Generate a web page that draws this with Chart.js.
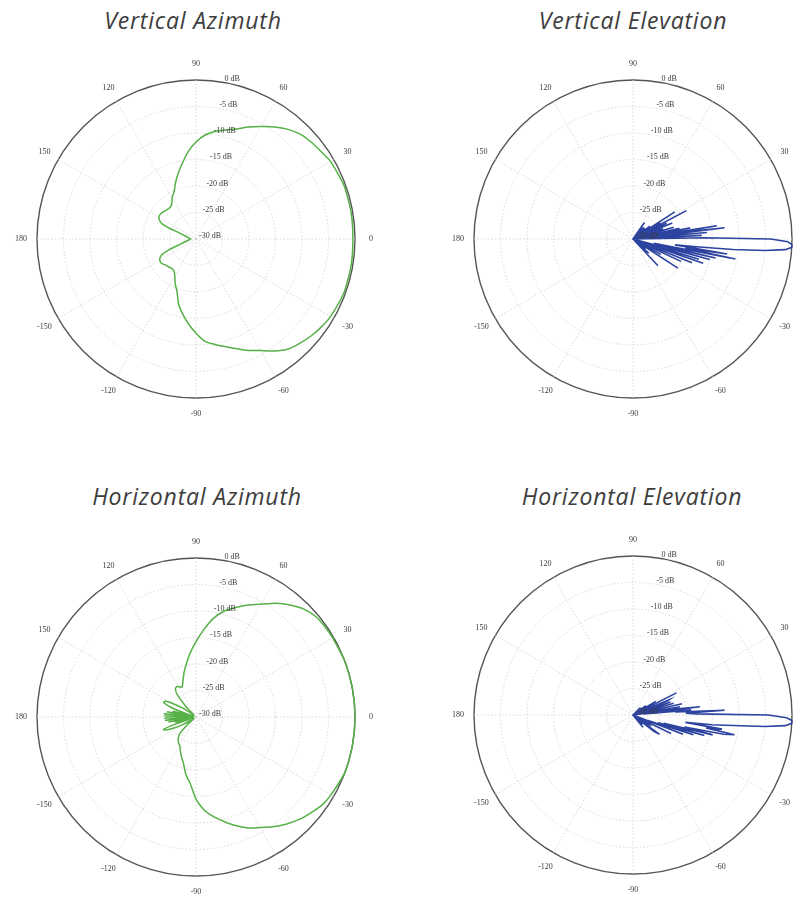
<!DOCTYPE html>
<html>
<head>
<meta charset="utf-8">
<script src="https://cdn.jsdelivr.net/npm/chart.js@4.4.0/dist/chart.umd.min.js"></script>
<style>
  html, body { margin:0; padding:0; background:#fff; overflow:hidden; width:801px; height:899px; }
  .plot { position:absolute; }
  .title { position:absolute; width:400px; text-align:center; font-family:"Open Sans", sans-serif; font-style:italic; font-size:23px; letter-spacing:0.8px; color:#3d3d3d; }
</style>
</head>
<body>
<canvas class="plot" id="canvas1" width="390" height="390" style="left:1px; top:44px;"></canvas>
<canvas class="plot" id="canvas2" width="390" height="390" style="left:438px; top:44px;"></canvas>
<canvas class="plot" id="canvas3" width="390" height="390" style="left:1px; top:522px;"></canvas>
<canvas class="plot" id="canvas4" width="390" height="390" style="left:438px; top:520px;"></canvas>

<div class="title" style="left:-7px; top:4px;">Vertical Azimuth</div>
<div class="title" style="left:433px; top:4px;">Vertical Elevation</div>
<div class="title" style="left:-3px; top:480px;">Horizontal Azimuth</div>
<div class="title" style="left:432px; top:480px;">Horizontal Elevation</div>

<script>
// angle labels round each plot and the dB rings
var spokeAngles = [0, 30, 60, 90, 120, 150, 180, -150, -120, -90, -60, -30];
var dbTicks = [0, -5, -10, -15, -20, -25, -30];

// Vertical Azimuth (deg, dB)
var vazAngles = [0, 10, 20, 30, 35, 40, 45, 50, 55, 60,
  65, 70, 75, 80, 85, 90, 95, 100, 105, 110,
  115, 120, 125, 130, 135, 140, 145, 150, 153, 156,
  158, 160, 165, 170, 175, 180, -175, -170, -165, -160,
  -158, -156, -153, -150, -145, -140, -135, -130, -125, -120,
  -115, -110, -105, -100, -95, -90, -85, -80, -75, -70,
  -65, -60, -55, -50, -45, -40, -35, -30, -20, -10];
var vazGain = [-0.4, -0.3, -0.3, -0.7, -1.2, -1.6, -2.1, -3.0, -4.2, -5.5,
  -6.7, -7.9, -8.7, -9.4, -10.3, -11.7, -13.4, -15.4, -17.1, -18.7,
  -20.2, -21.0, -22.0, -22.3, -22.2, -22.0, -21.8, -21.9, -22.3, -23.0,
  -24.6, -26.6, -28.0, -28.5, -28.8, -29.0, -28.8, -28.4, -27.8, -26.0,
  -24.5, -23.2, -22.4, -22.1, -22.0, -22.4, -22.6, -22.8, -22.7, -22.0,
  -20.7, -19.5, -17.3, -15.6, -13.9, -12.2, -10.6, -9.8, -9.0, -8.0,
  -6.8, -5.7, -4.2, -2.9, -2.2, -1.6, -1.1, -0.7, -0.3, -0.3];

// Vertical Elevation
var velAngles = [-57, -50, -47, -45, -42, -40, -37, -35, -33, -31,
  -29, -27, -25, -24, -22, -21, -19, -18, -17, -16,
  -15, -14, -13, -12, -11, -10, -9, -8, -7, -6,
  -5, -4, -3, -2, -1, 0, 1, 2, 3, 4,
  5, 6, 7, 8, 9, 10, 11, 12, 13, 14,
  16, 17, 19, 20, 22, 23, 25, 26, 28, 29,
  31, 32, 33, 34, 37, 39, 42, 44, 48, 50,
  55, 57];
var velGain = [-30, -30, -23.1, -30, -26, -30, -27, -30, -19.9, -30,
  -24, -30, -20, -30, -18, -30, -16, -28, -17, -30,
  -15, -25, -14, -26, -10.3, -20, -12, -22, -18, -11,
  -5, -1.2, 0, 0, -0.8, -4, -16.5, -30, -17, -30,
  -16, -28, -12.6, -22, -14, -30, -19, -30, -21, -30,
  -22, -30, -24, -30, -22, -30, -23, -30, -18.6, -30,
  -24, -30, -20.6, -30, -26, -30, -27, -30, -27, -30,
  -26.2, -30];

// Horizontal Azimuth
var hazAngles = [0, 10, 20, 30, 35, 40, 45, 50, 55, 60,
  65, 70, 75, 80, 85, 90, 95, 100, 105, 110,
  115, 118, 122, 126, 130, 134, 138, 142, 146, 150,
  153, 156, 159, 162, 164, 166, 168, 170, 172, 174,
  176, 178, 180, -178, -176, -174, -172, -170, -168, -166,
  -164, -161, -159, -156, -153, -150, -146, -142, -138, -134,
  -130, -125, -120, -118, -115, -110, -105, -100, -95, -90,
  -85, -80, -75, -70, -65, -60, -55, -50, -45, -40,
  -35, -30, -20, -10];
var hazGain = [0, 0, 0, -0.2, -0.3, -0.5, -1.2, -2.4, -3.8, -5.4,
  -6.7, -8.0, -9.3, -11.1, -13.5, -15.8, -17.8, -19.7, -21.3, -22.8,
  -23.8, -23.6, -23.2, -23.4, -24.5, -27.5, -29.5, -29.0, -27.0, -24.8,
  -23.5, -23.3, -25.0, -28.5, -29.5, -25.5, -29.5, -24.5, -29.5, -24.0,
  -29.0, -24.0, -29.0, -24.0, -29.0, -24.2, -29.5, -24.8, -29.5, -26.0,
  -29.5, -26.0, -23.4, -24.0, -25.5, -27.5, -29.0, -29.5, -28.0, -25.5,
  -24.8, -24.2, -23.8, -23.6, -23.0, -22.0, -20.9, -19.0, -17.4, -14.5,
  -12.4, -10.9, -9.6, -8.2, -6.9, -5.9, -4.7, -3.6, -2.6, -1.8,
  -1.0, -0.6, 0, 0];

// Horizontal Elevation
var helAngles = [-55, -51, -48, -44, -41, -38, -36, -34, -31, -29,
  -26, -24, -21, -20, -18, -17, -16, -15, -14, -13,
  -12, -11, -10, -9, -8, -7, -6, -5, -4, -3,
  -2, -1, 0, 1, 2, 3, 4, 5, 6, 7,
  8, 9, 10, 11, 13, 14, 16, 17, 19, 20,
  22, 23, 24, 27, 29, 31, 33, 36, 38, 45,
  48];
var helGain = [-30, -27, -30, -27.5, -30, -25, -23.8, -30, -26, -30,
  -22, -30, -19.9, -27, -18, -25, -16, -24, -14.5, -20,
  -12.5, -10.5, -16, -13, -20, -15, -11, -5, -1.2, 0,
  0, -1, -4.5, -18, -20, -12.7, -22, -19, -28, -17.3,
  -22, -30, -21, -30, -20.5, -30, -22, -30, -22.5, -30,
  -23, -22.5, -30, -20.8, -30, -25, -30, -27, -30, -28,
  -30];

var greenLine = '#55b046';
var blueLine = '#2c43a0';

// one radar slot per degree, slot 0 on the right, going clockwise
var slotLabels = [];
for (var i = 0; i < 360; i++) slotLabels.push('');

function slotOf(angle) {
  return ((-angle % 360) + 360) % 360;
}

function toSlots(angles, gains) {
  var arr = [];
  for (var i = 0; i < 360; i++) arr.push(null);
  angles.forEach((a, k) => {
    arr[slotOf(a)] = gains[k];
  });
  return arr;
}

//Labels drawn flat (chart.js would turn the tick labels with startAngle)
var polarText = {
  id: 'polarText',
  afterDraw: function(chart) {
    var ctx = chart.ctx;
    var scale = chart.scales.r;
    var R = scale.drawingArea;
    ctx.save();
    ctx.font = '8px "Liberation Serif", serif';
    ctx.fillStyle = '#3a3a3a';
    ctx.textAlign = 'center';
    ctx.textBaseline = 'middle';
    spokeAngles.forEach((a) => {
      var p = scale.getPointPosition(slotOf(a), R + 16);
      ctx.fillText(String(a), p.x, p.y);
    });
    dbTicks.forEach((v) => {
      var p = scale.getPointPosition(slotOf(82), scale.getDistanceFromCenterForValue(v));
      ctx.fillText(v + ' dB', p.x + 14, p.y - 3);
    });
    ctx.restore();
  }
};

function makePolar(id, angles, gains, color, width, tension) {
  return new Chart(document.getElementById(id), {
    type: 'radar',
    data: {
      labels: slotLabels,
      datasets: [{
        data: toSlots(angles, gains),
        borderColor: color,
        borderWidth: width,
        fill: false,
        pointRadius: 0,
        pointHoverRadius: 0,
        tension: tension,
        spanGaps: true
      }]
    },
    options: {
      responsive: false,
      animation: false,
      events: [],
      layout: { padding: 36 },
      plugins: {
        legend: { display: false },
        tooltip: { enabled: false }
      },
      scales: {
        r: {
          startAngle: 90,
          min: -30,
          max: 0,
          ticks: { display: false, stepSize: 5 },
          pointLabels: { display: false },
          angleLines: {
            color: function(c) { return c.index % 30 === 0 ? '#cfcfcf' : ''; },
            lineWidth: 0.8,
            borderDash: [1.5, 2]
          },
          grid: {
            circular: true,
            color: function(c) { return c.index === 0 ? '' : (c.index === 6 ? '#555' : '#cfcfcf'); },
            lineWidth: function(c) { return c.index === 6 ? 1.4 : 0.8; }
          },
          border: {
            dash: function(c) { return c.index === 6 ? [] : [1.5, 2]; }
          }
        }
      }
    },
    plugins: [polarText]
  });
}

makePolar('canvas1', vazAngles, vazGain, greenLine, 1.5, 0.2);
makePolar('canvas2', velAngles, velGain, blueLine, 1.6, 0);
makePolar('canvas3', hazAngles, hazGain, greenLine, 1.5, 0.2);
makePolar('canvas4', helAngles, helGain, blueLine, 1.6, 0);
</script>
</body>
</html>
